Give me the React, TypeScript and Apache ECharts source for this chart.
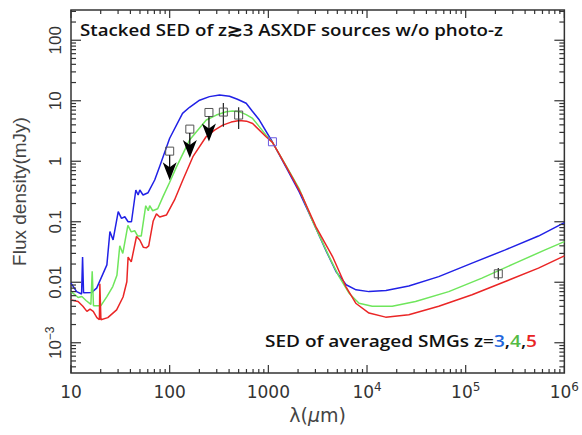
import React, { useEffect, useRef } from 'react';
import * as echarts from 'echarts';

// ---- Data (wavelength in micron, flux density in mJy) ----
const blueWave = [10, 11.4, 12.8, 13.1, 13.4, 16.2, 18.2, 23.1, 24.8, 26.7, 30.1, 32.5, 35.1, 37.9, 41.0, 45.4, 47.9, 49.8, 53.7, 60.4, 70.5, 79.3, 100, 135, 159, 201, 253, 320, 404, 486, 596, 689, 811, 1096, 1510, 2056, 2780, 3850, 4860, 6140, 7740, 10470, 15560, 26500, 53300, 116000, 252000, 546000, 1000000];
const blueFlux = [0.0097, 0.0070, 0.0064, 0.026, 0.0067, 0.0068, 0.0080, 0.0194, 0.069, 0.050, 0.147, 0.114, 0.121, 0.100, 0.100, 0.335, 0.277, 0.335, 0.277, 0.302, 0.49, 0.83, 2.4, 6.2, 7.8, 10.2, 11.7, 12.4, 11.9, 10.6, 9.1, 6.7, 4.8, 2.1, 0.80, 0.31, 0.107, 0.033, 0.0149, 0.0091, 0.0075, 0.0070, 0.0073, 0.0087, 0.0124, 0.0207, 0.0343, 0.058, 0.0966];

const greenWave = [10, 11.0, 11.8, 12.9, 14.2, 15.9, 16.4, 16.9, 20.1, 23.1, 26.5, 29.2, 31.2, 33.5, 37.7, 40.8, 44.2, 47.5, 51.5, 57.2, 60.7, 62.7, 67.3, 75.6, 85.6, 100, 117, 159, 235, 297, 374, 436, 509, 596, 693, 948, 1096, 1520, 2056, 2800, 4130, 5210, 6570, 8300, 11300, 18000, 31000, 67300, 146000, 318000, 638000, 1000000];
const greenFlux = [0.0070, 0.0062, 0.0056, 0.0058, 0.0050, 0.0043, 0.0152, 0.0041, 0.0041, 0.0058, 0.0085, 0.0130, 0.040, 0.030, 0.087, 0.068, 0.071, 0.058, 0.058, 0.184, 0.152, 0.184, 0.152, 0.164, 0.26, 0.45, 0.80, 2.24, 4.8, 5.8, 6.6, 6.8, 6.6, 5.9, 5.1, 2.7, 2.07, 0.83, 0.35, 0.103, 0.0266, 0.0124, 0.0066, 0.0045, 0.0040, 0.0040, 0.0048, 0.0070, 0.0117, 0.0207, 0.0343, 0.047];

const redWave = [10, 11.8, 13.2, 14.5, 15.6, 16.8, 18.3, 19.4, 19.6, 20.1, 23.6, 29.0, 33.7, 36.8, 37.9, 40.8, 46.1, 49.8, 54.0, 57.9, 61.3, 68.1, 73.4, 79.3, 92.6, 112, 136, 172, 234, 285, 345, 420, 509, 600, 693, 948, 1096, 1290, 1758, 2200, 3030, 4470, 6100, 7690, 10470, 15450, 26500, 53300, 116000, 252000, 546000, 1000000];
const redFlux = [0.0051, 0.0048, 0.0040, 0.0033, 0.0036, 0.0033, 0.0026, 0.0024, 0.0094, 0.0024, 0.0026, 0.0035, 0.0057, 0.0102, 0.026, 0.0217, 0.057, 0.050, 0.038, 0.037, 0.040, 0.103, 0.135, 0.120, 0.129, 0.229, 0.49, 1.19, 2.54, 3.27, 3.95, 4.44, 4.7, 4.6, 4.2, 2.54, 2.07, 1.31, 0.53, 0.267, 0.083, 0.0266, 0.0085, 0.0045, 0.0031, 0.00265, 0.0029, 0.0040, 0.0062, 0.0103, 0.0171, 0.0273];

// stacked photometry
const pointWave = [100, 160, 250, 350, 500, 214000];
const pointFlux = [1.47, 3.4, 6.4, 6.5, 5.8, 0.0138];
const pointErrLow = [1.47, 3.4, 6.4, 3.7, 3.4, 0.011];
const pointErrHigh = [1.47, 3.4, 6.4, 9.2, 7.8, 0.0172];
const pointUpperLimit = [1, 1, 1, 0, 0, 0];

const aztecWave = [1100];
const aztecFlux = [2.1];

// axes
const xMajorTicks = [10, 100, 1000, 1e4, 1e5, 1e6];
const xTickLabels = ['10', '100', '1000', '10^4', '10^5', '10^6'];
const yMajorTicks = [1e-3, 0.01, 0.1, 1, 10, 100];
const yTickLabels = ['10^−3', '0.01', '0.1', '1', '10', '100'];
const minorMultipliers = [2, 3, 4, 5, 6, 7, 8, 9];
const yDecadeBases = [1e-4, 1e-3, 1e-2, 0.1, 1, 10, 100];

const X_MIN = 1, X_MAX = 6, Y_MIN = -3.5, Y_MAX = 2.5;

const L = (v: number) => Math.log10(v);
const toXY = (w: number[], f: number[]) => w.map((x, i) => [L(x), L(f[i])]);
const toRich = (s: string) => {
  if (s.includes('^')) {
    const [b, e] = s.split('^');
    return `{b|${b}}{s|${e}}`;
  }
  return `{b|${s}}`;
};

const xMinorTicks: number[] = [];
for (let d = 0; d < xMajorTicks.length - 1; d++) for (const m of minorMultipliers) xMinorTicks.push(xMajorTicks[d] * m);
const yMinorTicks: number[] = [];
for (const base of yDecadeBases) for (const m of minorMultipliers) {
  const lv = L(base * m);
  if (lv > Y_MIN && lv < Y_MAX) yMinorTicks.push(base * m);
}

const FRAME = '#333';
const LABEL_FONT = "'DejaVu Sans', sans-serif";
const TEXT_FONT = "'Open Sans', 'Noto Sans', sans-serif";

export default function App() {
  const ref = useRef<HTMLDivElement>(null);
  useEffect(() => {
    if (!ref.current) return;
    const chart = echarts.init(ref.current, null, { renderer: 'svg' });

    const labelRich = {
      b: { fontSize: 17, lineHeight: 22, fontFamily: LABEL_FONT, color: '#333' },
      s: { fontSize: 12, lineHeight: 12, verticalAlign: 'top', fontFamily: LABEL_FONT, color: '#333' },
    };
    const yLabelRich = {
      b: { fontSize: 17, lineHeight: 22, fontFamily: "'Liberation Sans', sans-serif", color: '#333' },
      s: { fontSize: 12, lineHeight: 12, verticalAlign: 'top', fontFamily: "'Liberation Sans', sans-serif", color: '#333' },
    };

    const tickRender = (params: any, api: any) => {
      const children: any[] = [];
      const st = { stroke: FRAME, lineWidth: 1.2 };
      const addX = (v: number, len: number) => {
        const [x, yb] = api.coord([L(v), Y_MIN]);
        const yt = api.coord([L(v), Y_MAX])[1];
        children.push({ type: 'line', shape: { x1: x, y1: yb, x2: x, y2: yb - len }, style: st });
        children.push({ type: 'line', shape: { x1: x, y1: yt, x2: x, y2: yt + len }, style: st });
      };
      const addY = (v: number, len: number) => {
        const [xl, y] = api.coord([X_MIN, L(v)]);
        const xr = api.coord([X_MAX, L(v)])[0];
        children.push({ type: 'line', shape: { x1: xl, y1: y, x2: xl + len, y2: y }, style: st });
        children.push({ type: 'line', shape: { x1: xr, y1: y, x2: xr - len, y2: y }, style: st });
      };
      xMajorTicks.forEach((v) => addX(v, 8));
      xMinorTicks.forEach((v) => addX(v, 4));
      yMajorTicks.forEach((v) => addY(v, 10));
      yMinorTicks.forEach((v) => addY(v, 5));
      return { type: 'group', children };
    };

    const pointRender = (color: string) => (params: any, api: any) => {
      const x = api.value(0);
      const c = api.coord([x, api.value(1)]);
      const lo = api.value(2), hi = api.value(3);
      const children: any[] = [];
      if (hi - lo > 1e-6) {
        const pl = api.coord([x, lo]);
        const ph = api.coord([x, hi]);
        children.push({ type: 'line', shape: { x1: c[0], y1: ph[1], x2: c[0], y2: pl[1] }, style: { stroke: '#222', lineWidth: 1.2 } });
      }
      children.push({ type: 'rect', shape: { x: c[0] - 4, y: c[1] - 4, width: 8, height: 8 }, style: { fill: 'none', stroke: color, lineWidth: 1 } });
      if (api.value(4) === 1) {
        children.push({ type: 'line', shape: { x1: c[0], y1: c[1] + 4, x2: c[0], y2: c[1] + 17 }, style: { stroke: '#000', lineWidth: 1.2 } });
        children.push({
          type: 'polygon',
          shape: { points: [[c[0], c[1] + 29], [c[0] - 7, c[1] + 11], [c[0], c[1] + 16], [c[0] + 7, c[1] + 11]] },
          style: { fill: '#000' },
        });
      }
      return { type: 'group', children };
    };

    const lineSeries = (name: string, data: number[][], color: string) => ({
      name,
      type: 'line',
      data,
      showSymbol: false,
      symbol: 'none',
      smooth: false,
      silent: true,
      lineStyle: { color, width: 1.5 },
      z: 2,
    });

    chart.setOption({
      animation: false,
      grid: { left: 71, top: 10, width: 495, height: 363, show: true, borderColor: FRAME, borderWidth: 1.5, backgroundColor: 'transparent' },
      xAxis: {
        type: 'value', min: X_MIN, max: X_MAX, interval: 1,
        axisLine: { show: false }, axisTick: { show: false }, splitLine: { show: false },
        axisLabel: { margin: 8, formatter: (v: number) => toRich(xTickLabels[Math.round(v) - 1] ?? ''), rich: labelRich },
        name: '{n|λ(}{i|μ}{n|m)}',
        nameLocation: 'middle',
        nameGap: 25,
        nameTextStyle: {
          rich: {
            n: { fontSize: 19, fontFamily: LABEL_FONT, color: '#444' },
            i: { fontSize: 19, fontFamily: LABEL_FONT, fontStyle: 'italic', color: '#444' },
          },
        },
      },
      yAxis: {
        type: 'value', min: Y_MIN, max: Y_MAX, interval: 0.5,
        axisLine: { show: false }, axisTick: { show: false }, splitLine: { show: false },
        axisLabel: {
          rotate: 90, margin: 5, rich: yLabelRich,
          formatter: (v: number) => (Math.abs(v - Math.round(v)) < 1e-6 ? toRich(yTickLabels[Math.round(v) + 3] ?? '') : ''),
        },
        name: 'Flux density(mJy)',
        nameLocation: 'middle',
        nameRotate: 90,
        nameGap: 42,
        nameTextStyle: { fontSize: 19, fontFamily: "'Liberation Sans', sans-serif", color: '#444' },
      },
      graphic: [
        {
          type: 'text', x: 80, y: 29, scaleX: 1.1,
          style: { text: 'Stacked SED of z≳3 ASXDF sources w/o photo-z', fontSize: 17, fontWeight: 600, fontFamily: TEXT_FONT, fill: '#111', align: 'left', verticalAlign: 'middle' },
        },
        {
          type: 'text', x: 537, y: 340, scaleX: 1.12,
          style: {
            text: '{t|SED of averaged SMGs z=}{b|3}{t|,}{g|4}{t|,}{r|5}',
            align: 'right', verticalAlign: 'middle',
            rich: {
              t: { fontSize: 17, fontWeight: 600, fontFamily: TEXT_FONT, fill: '#111' },
              b: { fontSize: 17, fontWeight: 600, fontFamily: TEXT_FONT, fill: '#2266dd' },
              g: { fontSize: 17, fontWeight: 600, fontFamily: TEXT_FONT, fill: '#55bb44' },
              r: { fontSize: 17, fontWeight: 600, fontFamily: TEXT_FONT, fill: '#e82424' },
            },
          },
        },
      ],
      series: [
        lineSeries('z=3', toXY(blueWave, blueFlux), '#2121e6'),
        lineSeries('z=4', toXY(greenWave, greenFlux), '#6fe65c'),
        lineSeries('z=5', toXY(redWave, redFlux), '#ea2626'),
        {
          name: 'ticks', type: 'custom', coordinateSystem: 'cartesian2d', silent: true, z: 5,
          data: [[X_MIN, Y_MIN]], renderItem: tickRender,
        },
        {
          name: 'stacked', type: 'custom', coordinateSystem: 'cartesian2d', silent: true, z: 6,
          data: pointWave.map((w, i) => [L(w), L(pointFlux[i]), L(pointErrLow[i]), L(pointErrHigh[i]), pointUpperLimit[i]]),
          renderItem: pointRender('#555'),
        },
        {
          name: 'AzTEC', type: 'custom', coordinateSystem: 'cartesian2d', silent: true, z: 6,
          data: aztecWave.map((w, i) => [L(w), L(aztecFlux[i]), L(aztecFlux[i]), L(aztecFlux[i]), 0]),
          renderItem: pointRender('#6a5ae0'),
        },
      ],
    });
    return () => chart.dispose();
  }, []);
  return <div ref={ref} style={{ position: 'absolute', left: 0, top: 0, width: 582, height: 435, background: '#fff' }} />;
}
